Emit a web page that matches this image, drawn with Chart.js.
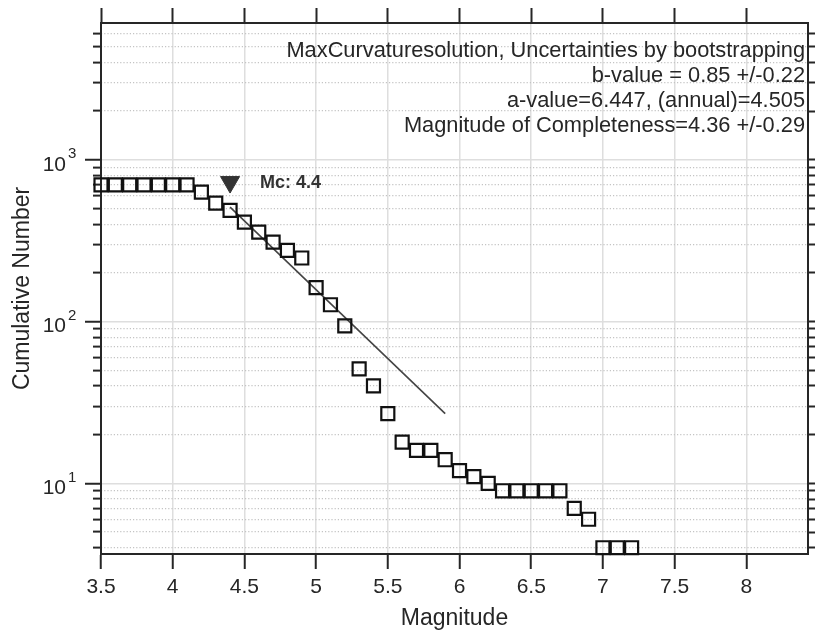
<!DOCTYPE html>
<html>
<head>
<meta charset="utf-8">
<script src="https://cdn.jsdelivr.net/npm/chart.js@4.4.1/dist/chart.umd.min.js"></script>
<style>
html, body { margin: 0; padding: 0; background: #fff; }
</style>
</head>
<body>
<canvas id="chartFmd" width="816" height="635"></canvas>
<script>
var ctx = document.getElementById('chartFmd').getContext('2d');

// frequency-magnitude data
var magnitudes = [3.5, 3.6, 3.7, 3.8, 3.9, 4.0, 4.1, 4.2, 4.3, 4.4, 4.5, 4.6, 4.7, 4.8, 4.9,
    5.0, 5.1, 5.2, 5.3, 5.4, 5.5, 5.6, 5.7, 5.8, 5.9, 6.0, 6.1, 6.2, 6.3, 6.4, 6.5, 6.6,
    6.7, 6.8, 6.9, 7.0, 7.1, 7.2];
var cumulativeNumber = [700, 700, 700, 700, 700, 700, 700, 630, 540, 486, 412, 357, 310, 275, 247,
    162, 127, 94, 51, 40, 27, 18, 16, 16, 14, 12, 11, 10, 9, 9, 9, 9,
    9, 7, 6, 4, 4, 4];

// fitted Gutenberg-Richter line (two ends)
var fitMagnitudes = [4.4, 5.9];
var fitNumbers = [509, 27];

// magnitude of completeness marker
var mcMagnitude = 4.4;
var mcLevel = 728;
var mcLabel = 'Mc: 4.4';

var infoLines = [
    'MaxCurvaturesolution, Uncertainties by bootstrapping',
    'b-value = 0.85 +/-0.22',
    'a-value=6.447, (annual)=4.505',
    'Magnitude of Completeness=4.36 +/-0.29'
];

var xRange = [3.5, 8.43];
var yRange = [3.66, 7000];
var xTickValues = [3.5, 4, 4.5, 5, 5.5, 6, 6.5, 7, 7.5, 8];
var yDecades = [10, 100, 1000];
var yDecadeExponents = ['1', '2', '3'];
var yMinorValues = [4, 5, 6, 7, 8, 9, 20, 30, 40, 50, 60, 70, 80, 90,
    200, 300, 400, 500, 600, 700, 800, 900, 2000, 3000, 4000, 5000, 6000];

var fam = '"Liberation Sans", Arial, Helvetica, sans-serif';
var ink = '#262626';
var clear = 'rgba(0,0,0,0)';

function setXTicks(scale) {
    scale.ticks = xTickValues.map(function (v) { return { value: v }; });
}

function setLogTicks(scale) {
    var t = yMinorValues.map(function (v) { return { value: v, major: false }; })
        .concat(yDecades.map(function (v) { return { value: v, major: true }; }));
    t.sort(function (a, b) { return a.value - b.value; });
    scale.ticks = t;
}

function isMajor(c) {
    return c.tick && c.tick.major;
}

var points = magnitudes.map(function (m, i) { return { x: m, y: cumulativeNumber[i] }; });
var fitPoints = fitMagnitudes.map(function (m, i) { return { x: m, y: fitNumbers[i] }; });

var textPlugin = {
    id: 'fmdText',
    afterDraw: function (chart) {
        var c = chart.ctx;
        var area = chart.chartArea;
        var xs = chart.scales.x;
        var ys = chart.scales.y;
        c.save();
        c.fillStyle = ink;
        c.textBaseline = 'middle';

        // decade labels 10^n
        yDecades.forEach(function (v, i) {
            var py = ys.getPixelForValue(v);
            c.font = '21px ' + fam;
            c.textAlign = 'right';
            c.fillText('10', area.left - 35, py + 5);
            c.font = '15px ' + fam;
            c.textAlign = 'left';
            c.fillText(yDecadeExponents[i], area.left - 33, py - 6);
        });

        // result text, upper right
        c.font = '21.8px ' + fam;
        c.textAlign = 'right';
        infoLines.forEach(function (t, i) {
            c.fillText(t, area.right - 3, area.top + 28 + i * 25);
        });

        // Mc label
        c.font = 'bold 18px ' + fam;
        c.textAlign = 'left';
        c.fillStyle = '#333';
        c.fillText(mcLabel, xs.getPixelForValue(mcMagnitude) + 30, ys.getPixelForValue(mcLevel) + 1);
        c.restore();
    }
};

var myChart = new Chart(ctx, {
    type: 'scatter',
    data: {
        datasets: [{
            label: 'Cumulative number',
            data: points,
            pointStyle: 'rect',
            pointRadius: 9.2,
            pointHoverRadius: 9.2,
            pointBorderWidth: 2.2,
            pointBorderColor: '#111',
            pointBackgroundColor: clear,
            showLine: false,
            clip: false,
            order: 1
        }, {
            label: 'Fit',
            type: 'line',
            data: fitPoints,
            borderColor: '#444',
            borderWidth: 1.6,
            pointRadius: 0,
            fill: false,
            order: 2
        }, {
            label: 'Mc',
            data: [{ x: mcMagnitude, y: mcLevel }],
            pointStyle: 'triangle',
            rotation: 180,
            pointRadius: 11,
            pointHoverRadius: 11,
            pointBorderWidth: 1,
            pointBorderColor: '#333',
            pointBackgroundColor: '#333',
            showLine: false,
            clip: false,
            order: 0
        }]
    },
    options: {
        responsive: false,
        animation: false,
        events: [],
        layout: { padding: 0, autoPadding: false },
        plugins: {
            legend: { display: false },
            tooltip: { enabled: false }
        },
        scales: {
            x: {
                type: 'linear',
                position: 'bottom',
                min: xRange[0],
                max: xRange[1],
                afterBuildTicks: setXTicks,
                afterFit: function (s) { s.height = 81; },
                grid: { color: '#dedede', lineWidth: 1.5, tickColor: ink, tickLength: 15, tickWidth: 2 },
                border: { color: ink, width: 2 },
                ticks: {
                    color: ink, font: { family: fam, size: 21 }, padding: 6,
                    maxRotation: 0, autoSkip: false,
                    callback: function (v) { return String(v); }
                },
                title: {
                    display: true, text: 'Magnitude', color: ink,
                    font: { family: fam, size: 23 }, padding: { top: 0, bottom: 3 }
                }
            },
            xTop: {
                type: 'linear',
                position: 'top',
                min: xRange[0],
                max: xRange[1],
                afterBuildTicks: setXTicks,
                afterFit: function (s) { s.height = 23; },
                grid: { drawOnChartArea: false, tickColor: ink, tickLength: 15, tickWidth: 2 },
                border: { color: ink, width: 2 },
                ticks: { display: false }
            },
            y: {
                type: 'logarithmic',
                position: 'left',
                weight: 1,
                min: yRange[0],
                max: yRange[1],
                afterBuildTicks: setLogTicks,
                afterFit: function (s) { s.width = 101; },
                grid: {
                    color: function (c) { return isMajor(c) ? '#dedede' : clear; },
                    lineWidth: 1.5,
                    tickColor: function (c) { return isMajor(c) ? ink : clear; },
                    tickLength: 16,
                    tickWidth: 2
                },
                border: { color: ink, width: 2 },
                ticks: { display: false },
                title: {
                    display: true, text: 'Cumulative Number', color: ink,
                    font: { family: fam, size: 23 }, padding: { top: 9, bottom: 0 }
                }
            },
            yMinor: {
                type: 'logarithmic',
                position: 'left',
                weight: 0,
                min: yRange[0],
                max: yRange[1],
                afterBuildTicks: setLogTicks,
                afterFit: function (s) { s.width = 0; },
                grid: {
                    color: function (c) { return isMajor(c) ? clear : '#c4c4c4'; },
                    lineWidth: 1.2,
                    tickColor: function (c) { return isMajor(c) ? clear : ink; },
                    tickLength: 8,
                    tickWidth: 2
                },
                border: { display: false, dash: [1.2, 2] },
                ticks: { display: false }
            },
            yRight: {
                type: 'logarithmic',
                position: 'right',
                min: yRange[0],
                max: yRange[1],
                afterBuildTicks: setLogTicks,
                afterFit: function (s) { s.width = 8; },
                grid: { drawOnChartArea: false, tickColor: ink, tickLength: 7, tickWidth: 2 },
                border: { color: ink, width: 2 },
                ticks: { display: false }
            }
        }
    },
    plugins: [textPlugin]
});
</script>
</body>
</html>
